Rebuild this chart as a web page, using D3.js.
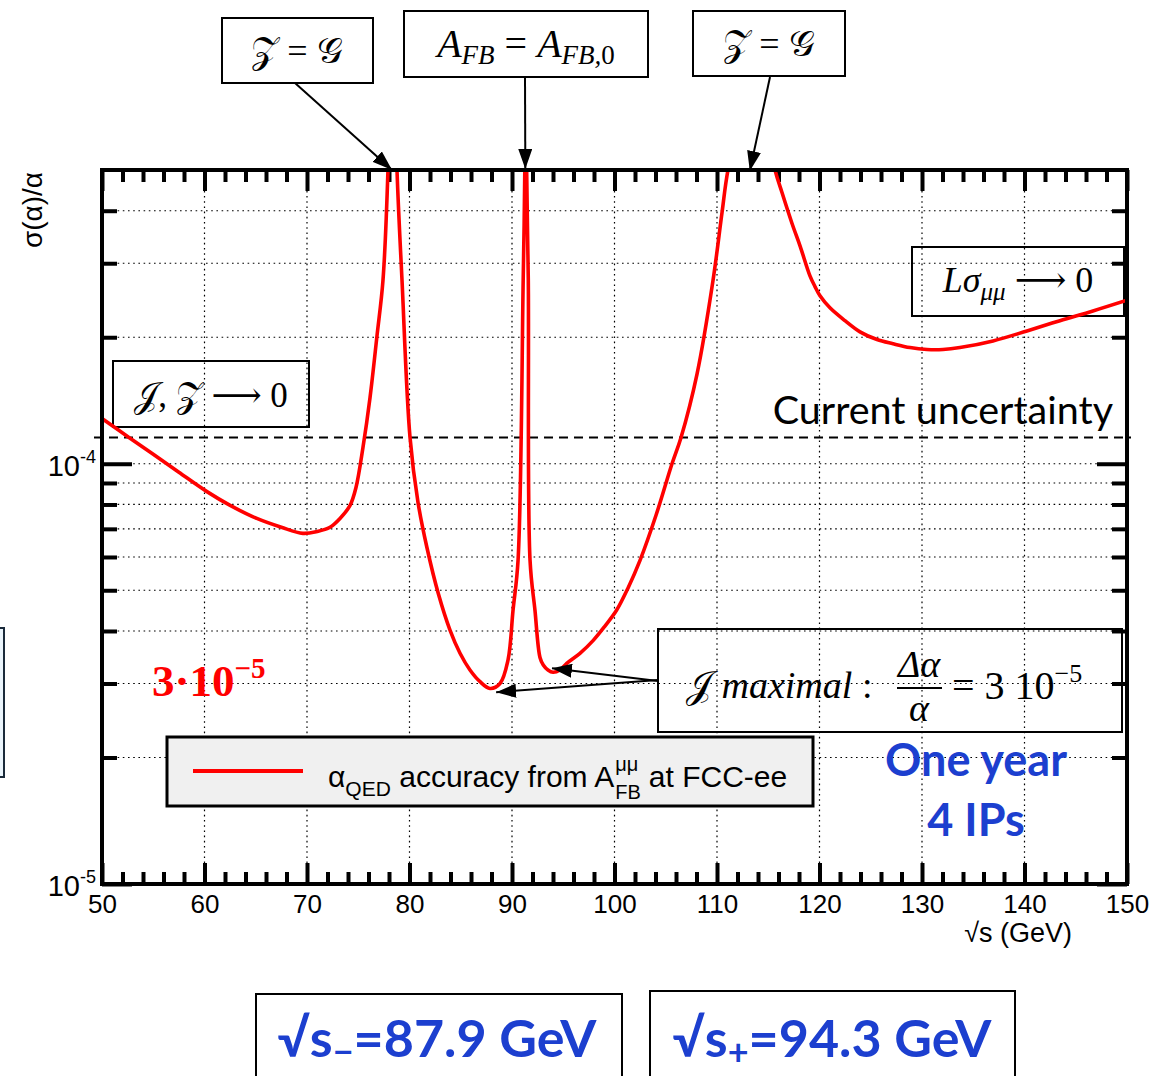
<!DOCTYPE html>
<html>
<head>
<meta charset="utf-8">
<script src="https://cdn.jsdelivr.net/npm/d3@7"></script>
<style>
  body { margin: 0; background: #fff; }
  svg { display: block; }
</style>
</head>
<body>
<svg id="chart" width="1154" height="1076"></svg>
<script>
// Centre-of-mass energy √s (GeV) and relative accuracy σ(α)/α from A_FB^μμ
const energy = [50, 52.7, 55, 57.5, 60.2, 62.5, 65.1, 67.5, 69.6, 71.0, 72.24, 73.22, 74.2, 74.78, 75.46,
  76.15, 76.83, 77.41, 77.9, 78.3, 78.78, 79.27, 80.05, 80.83, 81.7, 82.83, 83.95, 84.93, 85.9, 86.88,
  87.85, 88.83, 89.61, 90.1, 90.59, 91.09, 91.25, 91.35, 91.43, 91.59, 91.76, 92.24, 92.73, 93.05, 93.51,
  94.0, 94.68, 95.34, 96.63, 97.93, 99.07, 100.2, 101.3, 102.49, 104.05, 105.61, 106.49, 108.05, 109.61,
  110.49, 111.07, 113.4, 115.66, 116.34, 117.32, 118.1, 119.07, 119.56, 120.05, 121.02, 122.49, 123.95,
  125.61, 127.17, 128.83, 130.49, 132.05, 133.7, 136.93, 140.24, 143.46, 146.68, 150];
const accuracy = [1.281e-4, 1.152e-4, 1.053e-4, 9.545e-5, 8.595e-5, 7.96e-5, 7.41e-5, 7.06e-5, 6.83e-5, 6.9e-5,
  7.06e-5, 7.41e-5, 7.96e-5, 8.78e-5, 1.093e-4,
  1.438e-4, 2.018e-4, 2.728e-4, 5.0e-4, 1.5e-3, 5.0e-4, 2.73e-4, 1.155e-4, 8.09e-5, 6.32e-5, 4.89e-5, 4.02e-5,
  3.54e-5, 3.23e-5, 3.03e-5,
  2.92e-5, 3.0e-5, 3.41e-5, 4.48e-5, 5.89e-5, 2.73e-4, 5.0e-4, 2.5e-3, 5.0e-4, 2.73e-4, 5.89e-5, 4.48e-5,
  3.46e-5, 3.32e-5, 3.23e-5,
  3.19e-5, 3.23e-5, 3.35e-5, 3.54e-5, 3.80e-5, 4.11e-5, 4.48e-5, 5.05e-5, 5.89e-5, 7.54e-5, 1.0e-4, 1.155e-4,
  1.635e-4, 2.73e-4,
  3.96e-4, 5.0e-4, 9.0e-4, 5.0e-4, 4.42e-4, 3.73e-4, 3.30e-4, 2.80e-4, 2.64e-4, 2.51e-4, 2.35e-4, 2.19e-4,
  2.06e-4,
  1.975e-4, 1.93e-4, 1.89e-4, 1.87e-4, 1.87e-4, 1.89e-4, 1.96e-4, 2.07e-4, 2.19e-4, 2.31e-4, 2.45e-4];

// Axis ticks
const xMajorTicks = [50, 60, 70, 80, 90, 100, 110, 120, 130, 140, 150];
const xMinorTicks = d3.range(52, 150, 2).filter(v => v % 10 !== 0);
const yDecadeTicks = [1e-5, 1e-4];
const yMinorTicks = [2e-5, 3e-5, 4e-5, 5e-5, 6e-5, 7e-5, 8e-5, 9e-5, 2e-4, 3e-4, 4e-4];
const yDecadeLabels = [["10", "-5"], ["10", "-4"]];

// Reference level and annotated points
const currentUncertainty = 1.155e-4;
const zEqualsG = [78.3, 113.2];       // poles where Z = G
const afbPole = 91.3;                 // A_FB = A_FB,0
const interferenceMinima = [[88.45, 2.86e-5], [93.9, 3.26e-5]];

const W = 1154, H = 1076;
const margin = { top: 170, right: 27, bottom: 192, left: 102 };
const x = d3.scaleLinear().domain([50, 150]).range([margin.left, W - margin.right]);
const y = d3.scaleLog().domain([1e-5, 5e-4]).range([H - margin.bottom, margin.top]);
const [x0, x1] = x.range();
const [yB, yT] = y.range();

const svg = d3.select("#chart");
const sans = "'Liberation Sans', Arial, Helvetica, sans-serif";
const serif = "'Liberation Serif', 'Times New Roman', serif";
const mathFont = "'Liberation Serif', 'DejaVu Serif', serif";
const calibri = "Lato, 'Open Sans', sans-serif";
const blue = "#1c3fcf";

const defs = svg.append("defs");
defs.append("clipPath").attr("id", "plot-clip")
  .append("rect").attr("x", x0).attr("y", yT).attr("width", x1 - x0).attr("height", yB - yT);
defs.append("marker").attr("id", "head")
  .attr("viewBox", "0 0 20 14").attr("refX", 20).attr("refY", 7)
  .attr("markerWidth", 20).attr("markerHeight", 14)
  .attr("markerUnits", "userSpaceOnUse").attr("orient", "auto")
  .append("path").attr("d", "M0,0 L20,7 L0,14 Z").attr("fill", "#000");

// Dotted grid
const grid = svg.append("g").attr("stroke", "#000").attr("stroke-width", 1.2).attr("stroke-dasharray", "1.6,3.6");
grid.selectAll(".gx").data(xMajorTicks.slice(1, -1)).join("line")
  .attr("x1", d => x(d)).attr("x2", d => x(d)).attr("y1", yT).attr("y2", yB);
grid.selectAll(".gy").data(yMinorTicks.concat([1e-4])).join("line")
  .attr("y1", d => y(d)).attr("y2", d => y(d)).attr("x1", x0).attr("x2", x1);

// Left partial box at page edge
svg.append("rect").attr("x", -6).attr("y", 628).attr("width", 10).attr("height", 149)
  .attr("fill", "#eaf4fb").attr("stroke", "#1a2a3a").attr("stroke-width", 2);

// Axes: ticks point inwards on all four sides
function styleAxis(g) {
  g.selectAll(".domain").remove();
  g.selectAll(".tick line").attr("stroke", "#000").attr("stroke-width", 4);
  g.selectAll("text").attr("font-family", sans).attr("font-size", 26).attr("fill", "#000");
}
svg.append("g").attr("transform", `translate(0,${yB})`)
  .call(d3.axisBottom(x).tickValues(xMajorTicks).tickSizeInner(-21).tickSizeOuter(0).tickPadding(11).tickFormat(d3.format("d")))
  .call(styleAxis);
svg.append("g").attr("transform", `translate(0,${yB})`)
  .call(d3.axisBottom(x).tickValues(xMinorTicks).tickSizeInner(-12).tickSizeOuter(0).tickFormat(""))
  .call(styleAxis);
svg.append("g").attr("transform", `translate(0,${yT})`)
  .call(d3.axisTop(x).tickValues(xMajorTicks).tickSizeInner(-21).tickSizeOuter(0).tickFormat(""))
  .call(styleAxis);
svg.append("g").attr("transform", `translate(0,${yT})`)
  .call(d3.axisTop(x).tickValues(xMinorTicks).tickSizeInner(-12).tickSizeOuter(0).tickFormat(""))
  .call(styleAxis);
svg.append("g").attr("transform", `translate(${x0},0)`)
  .call(d3.axisLeft(y).tickValues(yDecadeTicks).tickSizeInner(-30).tickSizeOuter(0).tickFormat(""))
  .call(styleAxis);
svg.append("g").attr("transform", `translate(${x0},0)`)
  .call(d3.axisLeft(y).tickValues(yMinorTicks).tickSizeInner(-15).tickSizeOuter(0).tickFormat(""))
  .call(styleAxis);
svg.append("g").attr("transform", `translate(${x1},0)`)
  .call(d3.axisRight(y).tickValues(yDecadeTicks).tickSizeInner(-30).tickSizeOuter(0).tickFormat(""))
  .call(styleAxis);
svg.append("g").attr("transform", `translate(${x1},0)`)
  .call(d3.axisRight(y).tickValues(yMinorTicks).tickSizeInner(-15).tickSizeOuter(0).tickFormat(""))
  .call(styleAxis);

// Decade labels 10^-5, 10^-4
yDecadeTicks.forEach((v, i) => {
  const t = svg.append("text").attr("x", x0 - 6).attr("y", y(v) + 12)
    .attr("text-anchor", "end").attr("font-family", sans).attr("font-size", 29);
  t.append("tspan").text(yDecadeLabels[i][0]);
  t.append("tspan").attr("dy", -13).attr("font-size", 18).text(yDecadeLabels[i][1]);
});

// Axis titles
svg.append("text").attr("transform", `translate(42,${(yT + 250) / 2}) rotate(-90)`)
  .attr("text-anchor", "middle").attr("font-family", sans).attr("font-size", 28).text("σ(α)/α");
svg.append("text").attr("x", 1072).attr("y", 942).attr("text-anchor", "end")
  .attr("font-family", sans).attr("font-size", 27).text("√s (GeV)");

// Current uncertainty
svg.append("line").attr("x1", x0 - 8).attr("x2", x1 + 4)
  .attr("y1", y(currentUncertainty)).attr("y2", y(currentUncertainty))
  .attr("stroke", "#000").attr("stroke-width", 2).attr("stroke-dasharray", "9,6");
svg.append("text").attr("x", 1113).attr("y", y(currentUncertainty) - 13).attr("text-anchor", "end")
  .attr("font-family", calibri).attr("font-size", 39.5).text("Current uncertainty");

// Annotation helpers
function box(bx, by, bw, bh, sw, fill) {
  return svg.append("rect").attr("x", bx).attr("y", by).attr("width", bw).attr("height", bh)
    .attr("fill", fill || "none").attr("stroke", "#000").attr("stroke-width", sw || 2);
}
function arrow(ax, ay, bx, by) {
  svg.append("line").attr("x1", ax).attr("y1", ay).attr("x2", bx).attr("y2", by)
    .attr("stroke", "#000").attr("stroke-width", 2).attr("marker-end", "url(#head)");
}
const Z = "\u{1D4B5}", G = "\u{1D4A2}", I = "\u{1D4A5}";

// Transparent boxes inside the frame, drawn under the curve
box(113, 361, 196, 66);
svg.append("text").attr("x", 211).attr("y", 407).attr("text-anchor", "middle")
  .attr("font-family", mathFont).attr("font-size", 35).text(`${I}, ${Z} \u27F6 0`);

box(912, 247, 212, 69);
{
  const t = svg.append("text").attr("x", 1018).attr("y", 292).attr("text-anchor", "middle")
    .attr("font-family", mathFont).attr("font-size", 36);
  t.append("tspan").attr("font-style", "italic").text("Lσ");
  t.append("tspan").attr("font-style", "italic").attr("font-size", 25).attr("dy", 8).text("μμ");
  t.append("tspan").attr("dy", -8).text(" \u27F6 0");
}

box(658, 629, 464, 103);
{
  const t = svg.append("text").attr("x", 686).attr("y", 698)
    .attr("font-family", mathFont).attr("font-size", 38);
  t.append("tspan").text(I + " ");
  t.append("tspan").attr("font-style", "italic").text("maximal");
  t.append("tspan").text(" :");
  svg.append("text").attr("x", 919).attr("y", 677).attr("text-anchor", "middle")
    .attr("font-family", mathFont).attr("font-size", 38).attr("font-style", "italic").text("Δα");
  svg.append("line").attr("x1", 897).attr("x2", 942).attr("y1", 688).attr("y2", 688)
    .attr("stroke", "#000").attr("stroke-width", 2);
  svg.append("text").attr("x", 919).attr("y", 721).attr("text-anchor", "middle")
    .attr("font-family", mathFont).attr("font-size", 38).attr("font-style", "italic").text("α");
  const r = svg.append("text").attr("x", 952).attr("y", 699)
    .attr("font-family", mathFont).attr("font-size", 40);
  r.append("tspan").text("= 3 10");
  r.append("tspan").attr("font-size", 26).attr("dy", -17).text("\u22125");
}

// Accuracy curve
const series = energy.map((e, i) => [e, accuracy[i]]);
svg.append("path").datum(series)
  .attr("clip-path", "url(#plot-clip)")
  .attr("fill", "none").attr("stroke", "#ff0000").attr("stroke-width", 3.6)
  .attr("stroke-linejoin", "round")
  .attr("d", d3.line().x(d => x(d[0])).y(d => y(d[1])).curve(d3.curveCatmullRom.alpha(0.5)));

// Frame
svg.append("rect").attr("x", x0).attr("y", yT).attr("width", x1 - x0).attr("height", yB - yT)
  .attr("fill", "none").attr("stroke", "#000").attr("stroke-width", 4);

// Arrows from the "I maximal" box to both minima
interferenceMinima.forEach(([e, v], i) => arrow(658, 680 + i, x(e), y(v)));

// Boxes above the frame
box(222, 18, 151, 65, 2, "#fff");
svg.append("text").attr("x", 297).attr("y", 63).attr("text-anchor", "middle")
  .attr("font-family", mathFont).attr("font-size", 36).text(`${Z} = ${G}`);
arrow(295, 83, x(zEqualsG[0]), yT);

box(404, 11, 244, 66, 2, "#fff");
{
  const t = svg.append("text").attr("x", 526).attr("y", 57).attr("text-anchor", "middle")
    .attr("font-family", mathFont).attr("font-size", 40);
  t.append("tspan").attr("font-style", "italic").text("A");
  t.append("tspan").attr("font-style", "italic").attr("font-size", 27).attr("dy", 7).text("FB");
  t.append("tspan").attr("dy", -7).text(" = ");
  t.append("tspan").attr("font-style", "italic").text("A");
  t.append("tspan").attr("font-style", "italic").attr("font-size", 27).attr("dy", 7).text("FB,");
  t.append("tspan").attr("font-size", 27).text("0");
}
arrow(525, 77, x(afbPole), yT - 1);

box(693, 11, 152, 65, 2, "#fff");
svg.append("text").attr("x", 769).attr("y", 56).attr("text-anchor", "middle")
  .attr("font-family", mathFont).attr("font-size", 36).text(`${Z} = ${G}`);
arrow(770, 77, x(zEqualsG[1]), yT + 1);

// 3·10^-5 level marker
{
  const t = svg.append("text").attr("x", 152).attr("y", 696)
    .attr("font-family", serif).attr("font-size", 45).attr("font-weight", "bold").attr("fill", "#ff0000");
  t.append("tspan").text("3·10");
  t.append("tspan").attr("font-size", 29).attr("dy", -18).text("\u22125");
}

// Legend
box(167, 737, 646, 69, 3, "#f0f0f0");
svg.append("line").attr("x1", 193).attr("x2", 303).attr("y1", 771).attr("y2", 771)
  .attr("stroke", "#ff0000").attr("stroke-width", 4);
{
  const base = 787;
  const t = svg.append("text").attr("x", 328).attr("y", base).attr("font-family", sans).attr("font-size", 30);
  t.append("tspan").text("α");
  t.append("tspan").attr("font-size", 21).attr("dy", 9).text("QED");
  t.append("tspan").attr("dy", -9).text(" accuracy from A");
  const end = 328 + t.node().getComputedTextLength();
  svg.append("text").attr("x", end + 1).attr("y", base - 16).attr("font-family", sans).attr("font-size", 20).text("μμ");
  const fb = svg.append("text").attr("x", end + 1).attr("y", base + 12).attr("font-family", sans).attr("font-size", 20).text("FB");
  const after = end + 1 + fb.node().getComputedTextLength() + 8;
  svg.append("text").attr("x", after).attr("y", base).attr("font-family", sans).attr("font-size", 30).text("at FCC-ee");
}

// One year, 4 IPs
svg.append("text").attr("x", 976).attr("y", 776).attr("text-anchor", "middle")
  .attr("font-family", calibri).attr("font-weight", "bold").attr("font-size", 45).attr("fill", blue).text("One year");
svg.append("text").attr("x", 976).attr("y", 836).attr("text-anchor", "middle")
  .attr("font-family", calibri).attr("font-weight", "bold").attr("font-size", 45).attr("fill", blue).text("4 IPs");

// Operating points below the plot
box(256, 994, 366, 100, 2, "#fff");
box(650, 991, 365, 100, 2, "#fff");
[[437, "\u2212", "=87.9 GeV"], [832, "+", "=94.3 GeV"]].forEach(([cx, sub, rest]) => {
  const t = svg.append("text").attr("x", cx).attr("y", 1057).attr("text-anchor", "middle")
    .attr("font-family", calibri).attr("font-weight", "bold").attr("font-size", 52).attr("fill", blue);
  t.append("tspan").text("√s");
  t.append("tspan").attr("font-size", 36).attr("dy", 8).text(sub);
  t.append("tspan").attr("dy", -8).text(rest);
});
</script>
</body>
</html>
